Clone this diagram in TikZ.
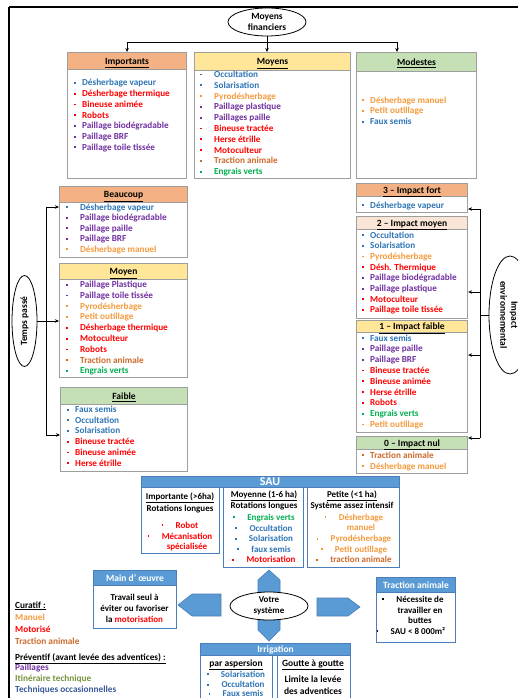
\documentclass[tikz,border=0pt]{standalone}
\usepackage{fontspec}
\setmainfont{Carlito}
\usetikzlibrary{arrows.meta,calc,shapes.geometric}
\definecolor{ib}{HTML}{2E75B6}
\definecolor{ir}{HTML}{FF0000}
\definecolor{ip}{HTML}{7030A0}
\definecolor{io}{HTML}{F59A3C}
\definecolor{it}{HTML}{CC6A2C}
\definecolor{ig}{HTML}{00B050}
\definecolor{iol}{HTML}{77933C}
\definecolor{itq}{HTML}{3A5A99}
\definecolor{hOr}{HTML}{F4B183}
\definecolor{hYe}{HTML}{FFE699}
\definecolor{hGr}{HTML}{C5E0B4}
\definecolor{hPe}{HTML}{FBE5D6}
\definecolor{boxgray}{HTML}{9E9E9E}
\definecolor{sb}{HTML}{5B9BD5}
\definecolor{sbd}{HTML}{4A7EBB}
\newcommand\bul{\rule[2pt]{1.8pt}{1.8pt}}
\tikzset{
  frame/.style={line width=2pt},
  box/.style={draw=boxgray, line width=1.1pt, fill=white, inner sep=0, anchor=north west},
  hdr/.style={draw=boxgray, line width=1.1pt, inner sep=0, anchor=north west},
  htxt/.style={font=\fontsize{9.5}{11}\selectfont\bfseries, inner sep=0, anchor=base},
  itm/.style={anchor=base west, inner sep=0, font=\fontsize{9.2}{11}\selectfont\bfseries},
  sitm/.style={inner sep=0, font=\fontsize{9}{11}\selectfont\bfseries},
  iitm/.style={inner sep=0, font=\fontsize{9.5}{11}\selectfont\bfseries},
  lg/.style={inner sep=0, anchor=base west, font=\fontsize{9.3}{11}\selectfont\bfseries},
  arr/.style={-{Stealth[length=4pt,width=3.5pt]}, line width=0.7pt},
  conn/.style={line width=0.7pt},
  ell/.style={ellipse, draw, line width=0.8pt, fill=white, inner sep=0},
  etxt/.style={inner sep=0, align=center, font=\fontsize{9.5}{11}\selectfont\bfseries},
  bbox/.style={draw=sbd, line width=1.1pt, fill=white, inner sep=0, anchor=north west},
  bhdr/.style={draw=sbd, line width=1.1pt, fill=sb, inner sep=0, anchor=north west},
  btxt/.style={inner sep=0, anchor=base, text=white, font=\fontsize{9.5}{11}\selectfont\bfseries},
  barrow/.style={fill=sb, draw=sbd, line width=0.6pt}
}
% name, x1, y1, x2, y2, header bottom, fill, label
\newcommand\mkbox[8]{%
  \node[box, minimum width={#4-#2}, minimum height={#5-#3}] (#1) at (#2,#3) {};
  \node[hdr, fill=#7, minimum width={#4-#2}, minimum height={#6-#3}] (#1h) at (#2,#3) {};
  \node[htxt] (#1t) at ($(#1h.center)+(0,3.3)$) {\underline{#8}};
}
% name, bullet x, gap, first center y, spacing, list
\newcommand\mklist[6]{%
  \foreach[count=\ii from 0] \cc/\tx in {#6} {
    \node[itm, text=\cc] (#1\ii) at ({#2},{#4+3+\ii*#5}) {\makebox[#3pt][l]{\bul}\tx};
  }
}
% centered text with bullet: name, x, y center, color, text
\newcommand\cb[5]{%
  \node[sitm, anchor=base, text=#4] (#1) at (#2,{#3+3}) {#5};
  \node[sitm, anchor=base east, text=#4] (#1b) at ([xshift=-12pt]#1.base west) {\bul};
}
\begin{document}
\begin{tikzpicture}[x=1pt,y=-1pt]
\useasboundingbox (0,0) rectangle (518,698);
\draw[frame] (9,7) -- (520,7);
\draw[frame] (9,7) -- (9,700);

% ---------- Moyens financiers ----------
\node[ell, minimum width=78, minimum height=28] (mf) at (267,22) {};
\node[etxt] (mft) at (mf.center) {Moyens\\financiers};

\mkbox{imp}{67}{52}{186}{178}{69}{hOr}{Importants}
\mklist{impi}{74}{8}{83}{10.7}{ib/Désherbage vapeur, ir/Désherbage thermique, ir/Bineuse animée, ir/Robots, ip/Paillage biodégradable, ip/Paillage BRF, ip/Paillage toile tissée}

\mkbox{moy}{194}{52}{350}{178}{70}{hYe}{Moyens}
\mklist{moyi}{200}{14}{74.5}{10.8}{ib/Occultation, ib/Solarisation, io/Pyrodésherbage, ip/Paillage plastique, ip/Paillages paille, ir/Bineuse tractée, ir/Herse étrille, ir/Motoculteur, it/Traction animale, ig/Engrais verts}

\mkbox{mod}{356}{52}{476}{178}{71}{hGr}{Modestes}
\mklist{modi}{362}{8}{100}{10.9}{io/Désherbage manuel, io/Petit outillage, ib/Faux semis}

\coordinate (tj) at (267,42);
\draw[arr] (mf.south) -- (mf.south |- moy.north);
\draw[arr] (tj) -| (imp.north);
\draw[arr] (tj) -| ([xshift=41pt]mod.north west);

% ---------- Temps passé ----------
\mkbox{bea}{59}{186}{187}{257}{202}{hOr}{Beaucoup}
\mklist{beai}{66}{14}{207}{10.5}{ib/Désherbage vapeur, ip/Paillage biodégradable, ip/Paillage paille, ip/Paillage BRF, io/Désherbage manuel}

\mkbox{myn}{59}{263}{187}{377}{279}{hYe}{Moyen}
\mklist{myni}{66}{14}{284.5}{10.8}{ip/Paillage Plastique, ip/Paillage toile tissée, io/Pyrodésherbage, io/Petit outillage, ir/Désherbage thermique, ir/Motoculteur, ir/Robots, it/Traction animale, ig/Engrais verts}

\mkbox{fai}{60}{387}{187}{471}{404}{hGr}{Faible}
\mklist{faii}{67}{8}{409.5}{10.7}{ib/Faux semis, ib/Occultation, ib/Solarisation, ir/Bineuse tractée, ir/Bineuse animée, ir/Herse étrille}

\node[ell, minimum width=25, minimum height=91] (tp) at (24.5,321) {};
\node[etxt, rotate=90] (tpt) at (tp.center) {Temps passé};
\coordinate (tl1) at (46,207);
\coordinate (tl2) at (46,435);
\draw[arr] (tp.east) -- (tp.east -| myn.west);
\draw[conn] (tl1) -- (tl2);
\draw[arr] (tl1) -- (tl1 -| bea.west);
\draw[arr] (tl2) -- (tl2 -| fai.west);

% ---------- Impact environnemental ----------
\mkbox{ifo}{356}{183}{467}{212}{196}{hOr}{3 – Impact fort}
\mklist{ifoi}{362}{8}{205}{10.7}{ib/Désherbage vapeur}

\mkbox{imo}{356}{216}{467}{318}{229}{hPe}{2 – Impact moyen}
\mklist{imoi}{362}{8}{235}{10.7}{ib/Occultation, ib/Solarisation, io/Pyrodésherbage, ir/Désh. Thermique, ip/Paillage biodégradable, ip/Paillage plastique, ir/Motoculteur, ir/Paillage toile tissée}

\mkbox{ifa}{356}{320}{467}{432}{332}{hYe}{1 – Impact faible}
\mklist{ifai}{362}{8}{338}{10.8}{ib/Faux semis, ip/Paillage paille, ip/Paillage BRF, ir/Bineuse tractée, ir/Bineuse animée, ir/Herse étrille, ir/Robots, ig/Engrais verts, io/Petit outillage}

\mkbox{inu}{356}{436}{467}{473}{449}{hGr}{0 – Impact nul}
\mklist{inui}{362}{8}{455}{11}{it/Traction animale, io/Désherbage manuel}

\node[ell, minimum width=42, minimum height=118] (ie) at (510,315) {};
\node[etxt, rotate=-90] (iet) at (509,315) {Impact\\environnemental};
\coordinate (ir1) at (480,209);
\coordinate (ir2) at (480,292);
\coordinate (ir3) at (480,355);
\coordinate (ir4) at (480,438);
\draw[conn] (ie.west) -- (ie.west -| ir1);
\draw[conn] (ir1) -- (ir4);
\draw[arr] (ir1) -- (ir1 -| ifo.east);
\draw[arr] (ir2) -- (ir2 -| imo.east);
\draw[arr] (ir3) -- (ir3 -| ifa.east);
\draw[arr] (ir4) -- (ir4 -| inu.east);

% ---------- SAU ----------
\node[bbox, minimum width=78, minimum height=66] (s1) at (141,487) {};
\node[bbox, minimum width=80, minimum height=80] (s2) at (223,487) {};
\node[bbox, minimum width=92, minimum height=80] (s3) at (307,487) {};
\node[bhdr, minimum width=258, minimum height=11] (sau) at (141,476) {};
\node[btxt, font=\fontsize{12}{12}\selectfont\bfseries] (saut) at (270,485.5) {SAU};

\node[sitm, anchor=base] (s1a) at (180,499) {\underline{Importante (>6ha)}};
\node[sitm, anchor=base] (s1b) at (180,511) {Rotations longues};
\cb{s1c}{187}{525}{ir}{Robot}
\cb{s1d}{187}{536}{ir}{Mécanisation}
\node[sitm, anchor=base, text=ir] (s1e) at (187,549) {spécialisée};

\node[sitm, anchor=base] (s2a) at (264,497) {\underline{Moyenne (1-6 ha)}};
\node[sitm, anchor=base] (s2b) at (264,508) {Rotations longues};
\cb{s2c}{271}{517}{ig}{Engrais verts}
\cb{s2d}{271}{528}{ib}{Occultation}
\cb{s2e}{271}{538.5}{ib}{Solarisation}
\cb{s2f}{271}{549}{ib}{faux semis}
\cb{s2g}{271}{559.5}{ir}{Motorisation}

\node[sitm, anchor=base] (s3a) at (352,497) {\underline{Petite (<1 ha)}};
\node[sitm, anchor=base] (s3b) at (352,508) {Système assez intensif};
\cb{s3c}{361}{517}{io}{Désherbage}
\node[sitm, anchor=base, text=io] (s3d) at (361,530) {manuel};
\cb{s3e}{361}{538.5}{io}{Pyrodésherbage}
\cb{s3f}{361}{549}{io}{Petit outillage}
\cb{s3g}{361}{559.5}{it}{traction animale}

% ---------- Votre système ----------
\filldraw[barrow] (258,598) -- (258,580) -- (269,570) -- (280,580) -- (280,598) -- cycle;
\filldraw[barrow] (258,614) -- (258,630) -- (269,641) -- (280,630) -- (280,614) -- cycle;
\filldraw[barrow] (221,594) -- (192,594) -- (178,605) -- (192,616) -- (221,616) -- cycle;
\filldraw[barrow] (317,598) -- (348,598) -- (360,607) -- (348,616) -- (317,616) -- cycle;
\node[ell, minimum width=78, minimum height=28] (vs) at (269,606) {};
\node[etxt, font=\fontsize{9}{11}\selectfont\bfseries] (vst) at (vs.center) {Votre\\système};

% ---------- Main d'oeuvre ----------
\node[bbox, minimum width=83, minimum height=58] (mo) at (93,570) {};
\node[bhdr, minimum width=83, minimum height=15] (moh) at (93,570) {};
\node[btxt] (mot) at ($(moh.center)+(0,3.3)$) {Main d' œuvre};
\node[sitm, align=center, anchor=north, font=\fontsize{9}{11}\selectfont\bfseries] (mob) at (134.5,593.5) {Travail seul à\\éviter ou favoriser\\la \textcolor{ir}{motorisation}};

% ---------- Traction animale ----------
\node[bbox, minimum width=79, minimum height=65] (ta) at (376,577) {};
\node[bhdr, minimum width=79, minimum height=15] (tah) at (376,577) {};
\node[btxt] (tat) at ($(tah.center)+(0,3.3)$) {Traction animale};
\cb{ta1}{420}{599}{black}{Nécessite de}
\node[sitm, anchor=base] (ta2) at (420,613) {travailler en};
\node[sitm, anchor=base] (ta3) at (420,623.5) {buttes};
\cb{ta4}{418}{631}{black}{SAU < 8 000m²}

% ---------- Irrigation ----------
\node[bbox, minimum width=72, minimum height=60] (ira) at (200,655) {};
\node[bbox, minimum width=73, minimum height=60] (irb) at (277,655) {};
\node[bhdr, minimum width=150, minimum height=12] (irh) at (200,643) {};
\node[btxt] (irt) at ($(irh.center)+(0,3.3)$) {Irrigation};
\node[iitm, anchor=base] (ira1) at (236,666) {\underline{par aspersion}};
\cb{ira2}{243}{674}{ib}{Solarisation}
\cb{ira3}{243}{684.5}{ib}{Occultation}
\cb{ira4}{243}{693.5}{ib}{Faux semis}
\node[iitm, anchor=base] (irb1) at (313,666) {\underline{Goutte à goutte}};
\node[iitm, anchor=base] (irb2) at (313,682) {Limite la levée};
\node[iitm, anchor=base] (irb3) at (313,694) {des adventices};

% ---------- Légende ----------
\node[lg] (l1) at (15,608) {\underline{Curatif :}};
\node[lg, text=io] (l2) at (15,620) {Manuel};
\node[lg, text=ir] (l3) at (15,632) {Motorisé};
\node[lg, text=it] (l4) at (15,644) {Traction animale};
\node[lg] (l5) at (15,660) {\underline{Préventif (avant levée des adventices) :}};
\node[lg, text=ip] (l6) at (15,670) {Paillages};
\node[lg, text=iol] (l7) at (15,681) {Itinéraire technique};
\node[lg, text=itq] (l8) at (15,692) {Techniques occasionnelles};
\end{tikzpicture}
\end{document}
